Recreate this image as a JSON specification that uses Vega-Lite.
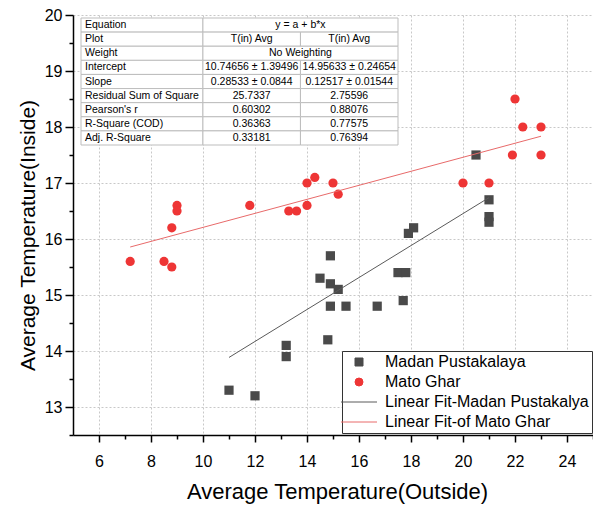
{
  "$schema": "https://vega.github.io/schema/vega-lite/v6.json",
  "width": 520,
  "height": 420,
  "autosize": {"type": "none"},
  "padding": {"left": 73, "top": 15, "right": 0, "bottom": 71},
  "config": {
    "font": "Liberation Sans",
    "view": {"stroke": null},
    "axis": {
      "domainColor": "black", "domainWidth": 1.5, "tickColor": "black", "tickWidth": 1.5,
      "labelColor": "black", "labelFontSize": 16, "labelFont": "Liberation Sans",
      "titleColor": "black", "titleFontWeight": "normal", "titleFont": "Liberation Sans",
      "gridColor": "#c8c8c8", "gridDash": [2, 2], "gridWidth": 1, "labelOverlap": false
    }
  },
  "datasets": {
    "pts": [
      {"x": 11.0, "y": 13.3, "series": "Madan Pustakalaya"},
      {"x": 12.0, "y": 13.2, "series": "Madan Pustakalaya"},
      {"x": 13.2, "y": 14.1, "series": "Madan Pustakalaya"},
      {"x": 13.2, "y": 13.9, "series": "Madan Pustakalaya"},
      {"x": 14.8, "y": 14.2, "series": "Madan Pustakalaya"},
      {"x": 14.9, "y": 14.8, "series": "Madan Pustakalaya"},
      {"x": 15.5, "y": 14.8, "series": "Madan Pustakalaya"},
      {"x": 16.7, "y": 14.8, "series": "Madan Pustakalaya"},
      {"x": 17.7, "y": 14.9, "series": "Madan Pustakalaya"},
      {"x": 14.5, "y": 15.3, "series": "Madan Pustakalaya"},
      {"x": 14.9, "y": 15.2, "series": "Madan Pustakalaya"},
      {"x": 15.2, "y": 15.1, "series": "Madan Pustakalaya"},
      {"x": 14.9, "y": 15.7, "series": "Madan Pustakalaya"},
      {"x": 17.5, "y": 15.4, "series": "Madan Pustakalaya"},
      {"x": 17.8, "y": 15.4, "series": "Madan Pustakalaya"},
      {"x": 17.9, "y": 16.1, "series": "Madan Pustakalaya"},
      {"x": 18.1, "y": 16.2, "series": "Madan Pustakalaya"},
      {"x": 20.5, "y": 17.5, "series": "Madan Pustakalaya"},
      {"x": 21.0, "y": 16.7, "series": "Madan Pustakalaya"},
      {"x": 21.0, "y": 16.4, "series": "Madan Pustakalaya"},
      {"x": 21.0, "y": 16.3, "series": "Madan Pustakalaya"},
      {"x": 7.2, "y": 15.6, "series": "Mato Ghar"},
      {"x": 8.5, "y": 15.6, "series": "Mato Ghar"},
      {"x": 8.8, "y": 15.5, "series": "Mato Ghar"},
      {"x": 8.8, "y": 16.2, "series": "Mato Ghar"},
      {"x": 9.0, "y": 16.6, "series": "Mato Ghar"},
      {"x": 9.0, "y": 16.5, "series": "Mato Ghar"},
      {"x": 11.8, "y": 16.6, "series": "Mato Ghar"},
      {"x": 13.3, "y": 16.5, "series": "Mato Ghar"},
      {"x": 13.6, "y": 16.5, "series": "Mato Ghar"},
      {"x": 14.0, "y": 16.6, "series": "Mato Ghar"},
      {"x": 14.0, "y": 17.0, "series": "Mato Ghar"},
      {"x": 14.3, "y": 17.1, "series": "Mato Ghar"},
      {"x": 15.0, "y": 17.0, "series": "Mato Ghar"},
      {"x": 15.2, "y": 16.8, "series": "Mato Ghar"},
      {"x": 20.0, "y": 17.0, "series": "Mato Ghar"},
      {"x": 21.0, "y": 17.0, "series": "Mato Ghar"},
      {"x": 21.9, "y": 17.5, "series": "Mato Ghar"},
      {"x": 22.0, "y": 18.5, "series": "Mato Ghar"},
      {"x": 22.3, "y": 18.0, "series": "Mato Ghar"},
      {"x": 23.0, "y": 18.0, "series": "Mato Ghar"},
      {"x": 23.0, "y": 17.5, "series": "Mato Ghar"}
    ],
    "fits": [
      {"x": 11.0, "y": 13.885, "series": "Linear Fit-Madan Pustakalya"},
      {"x": 21.0, "y": 16.739, "series": "Linear Fit-Madan Pustakalya"},
      {"x": 7.2, "y": 15.857, "series": "Linear Fit-of Mato Ghar"},
      {"x": 23.0, "y": 17.835, "series": "Linear Fit-of Mato Ghar"}
    ],
    "cells": [
      {"row": "Equation", "kind": "label", "from": "c0", "to": "c5", "mid": "c0", "text": "Equation"},
      {"row": "Equation", "kind": "value", "from": "c5", "to": "c13", "mid": "c9", "text": "y = a + b*x"},
      {"row": "Plot", "kind": "label", "from": "c0", "to": "c5", "mid": "c0", "text": "Plot"},
      {"row": "Plot", "kind": "value", "from": "c5", "to": "c9", "mid": "c7", "text": "T(in) Avg"},
      {"row": "Plot", "kind": "value", "from": "c9", "to": "c13", "mid": "c11", "text": "T(in) Avg"},
      {"row": "Weight", "kind": "label", "from": "c0", "to": "c5", "mid": "c0", "text": "Weight"},
      {"row": "Weight", "kind": "value", "from": "c5", "to": "c13", "mid": "c9", "text": "No Weighting"},
      {"row": "Intercept", "kind": "label", "from": "c0", "to": "c5", "mid": "c0", "text": "Intercept"},
      {"row": "Intercept", "kind": "value", "from": "c5", "to": "c9", "mid": "c7", "text": "10.74656 ± 1.39496"},
      {"row": "Intercept", "kind": "value", "from": "c9", "to": "c13", "mid": "c11", "text": "14.95633 ± 0.24654"},
      {"row": "Slope", "kind": "label", "from": "c0", "to": "c5", "mid": "c0", "text": "Slope"},
      {"row": "Slope", "kind": "value", "from": "c5", "to": "c9", "mid": "c7", "text": "0.28533 ± 0.0844"},
      {"row": "Slope", "kind": "value", "from": "c9", "to": "c13", "mid": "c11", "text": "0.12517 ± 0.01544"},
      {"row": "Residual Sum of Square", "kind": "label", "from": "c0", "to": "c5", "mid": "c0", "text": "Residual Sum of Square"},
      {"row": "Residual Sum of Square", "kind": "value", "from": "c5", "to": "c9", "mid": "c7", "text": "25.7337"},
      {"row": "Residual Sum of Square", "kind": "value", "from": "c9", "to": "c13", "mid": "c11", "text": "2.75596"},
      {"row": "Pearson's r", "kind": "label", "from": "c0", "to": "c5", "mid": "c0", "text": "Pearson's r"},
      {"row": "Pearson's r", "kind": "value", "from": "c5", "to": "c9", "mid": "c7", "text": "0.60302"},
      {"row": "Pearson's r", "kind": "value", "from": "c9", "to": "c13", "mid": "c11", "text": "0.88076"},
      {"row": "R-Square (COD)", "kind": "label", "from": "c0", "to": "c5", "mid": "c0", "text": "R-Square (COD)"},
      {"row": "R-Square (COD)", "kind": "value", "from": "c5", "to": "c9", "mid": "c7", "text": "0.36363"},
      {"row": "R-Square (COD)", "kind": "value", "from": "c9", "to": "c13", "mid": "c11", "text": "0.77575"},
      {"row": "Adj. R-Square", "kind": "label", "from": "c0", "to": "c5", "mid": "c0", "text": "Adj. R-Square"},
      {"row": "Adj. R-Square", "kind": "value", "from": "c5", "to": "c9", "mid": "c7", "text": "0.33181"},
      {"row": "Adj. R-Square", "kind": "value", "from": "c9", "to": "c13", "mid": "c11", "text": "0.76394"}
    ]
  },
  "resolve": {
    "scale": {"x": "independent", "y": "independent"},
    "axis": {"x": "independent", "y": "independent"}
  },
  "layer": [
    {
      "data": {"name": "pts"},
      "mark": {"type": "point", "filled": true, "opacity": 1, "size": 85},
      "encoding": {
        "x": {
          "field": "x", "type": "quantitative",
          "scale": {"domain": [5, 25], "nice": false, "zero": false},
          "axis": {
            "orient": "bottom", "values": [6, 8, 10, 12, 14, 16, 18, 20, 22, 24],
            "tickSize": 7, "labelPadding": 11, "grid": true,
            "title": "Average Temperature(Outside)", "titleFontSize": 22,
            "titleX": 264, "titleY": 63, "titleAlign": "center", "titleBaseline": "alphabetic"
          }
        },
        "y": {
          "field": "y", "type": "quantitative",
          "scale": {"domain": [12.5, 20], "nice": false, "zero": false},
          "axis": {
            "orient": "left", "values": [13, 14, 15, 16, 17, 18, 19, 20],
            "tickSize": 8, "labelPadding": 3, "grid": true,
            "title": "Average Temperature(Inside)", "titleFontSize": 21,
            "titleX": -35, "titleY": 220, "titleAngle": -90, "titleAlign": "center", "titleBaseline": "bottom"
          }
        },
        "color": {
          "field": "series", "type": "nominal",
          "scale": {
            "domain": ["Madan Pustakalaya", "Mato Ghar", "Linear Fit-Madan Pustakalya", "Linear Fit-of Mato Ghar"],
            "range": ["#4a4a4a", "#ee3535", "#5a5a5a", "#e86a6a"]
          },
          "legend": {
            "title": null, "orient": "none", "legendX": 269, "legendY": 336,
            "strokeColor": "#333", "fillColor": "white", "padding": 3, "cornerRadius": 0,
            "labelFontSize": 16, "labelFont": "Liberation Sans", "labelColor": "black", "labelLimit": 400,
            "symbolSize": 64, "symbolOffset": 6, "labelOffset": 18, "rowPadding": 4, "symbolStrokeWidth": 1,
            "encode": {"symbols": {"update": {"fill": {"scale": "color", "field": "value"}, "stroke": {"scale": "color", "field": "value"}, "opacity": {"value": 1}}}}
          }
        },
        "shape": {
          "field": "series", "type": "nominal",
          "scale": {
            "domain": ["Madan Pustakalaya", "Mato Ghar", "Linear Fit-Madan Pustakalya", "Linear Fit-of Mato Ghar"],
            "range": ["square", "circle", "M-4.5,0H4.5", "M-4.5,0H4.5"]
          },
          "legend": {
            "title": null, "orient": "none", "legendX": 269, "legendY": 336,
            "strokeColor": "#333", "fillColor": "white", "padding": 3, "cornerRadius": 0,
            "labelFontSize": 16, "labelFont": "Liberation Sans", "labelColor": "black", "labelLimit": 400,
            "symbolSize": 64, "symbolOffset": 6, "labelOffset": 18, "rowPadding": 4, "symbolStrokeWidth": 1,
            "encode": {"symbols": {"update": {"fill": {"scale": "color", "field": "value"}, "stroke": {"scale": "color", "field": "value"}, "opacity": {"value": 1}}}}
          }
        }
      }
    },
    {
      "data": {"name": "fits"},
      "mark": {"type": "line", "strokeWidth": 1},
      "encoding": {
        "x": {
          "field": "x", "type": "quantitative",
          "scale": {"domain": [5, 25], "nice": false, "zero": false},
          "axis": {
            "orient": "bottom", "values": [7, 9, 11, 13, 15, 17, 19, 21, 23, 25],
            "tickSize": 4, "labels": false, "domain": false, "grid": false, "title": null
          }
        },
        "y": {
          "field": "y", "type": "quantitative",
          "scale": {"domain": [12.5, 20], "nice": false, "zero": false},
          "axis": {
            "orient": "left", "values": [12.5, 13.5, 14.5, 15.5, 16.5, 17.5, 18.5, 19.5],
            "tickSize": 4, "labels": false, "domain": false, "grid": false, "title": null
          }
        },
        "color": {
          "field": "series", "type": "nominal",
          "scale": {
            "domain": ["Madan Pustakalaya", "Mato Ghar", "Linear Fit-Madan Pustakalya", "Linear Fit-of Mato Ghar"],
            "range": ["#4a4a4a", "#ee3535", "#5a5a5a", "#e86a6a"]
          }
        }
      }
    },
    {
      "data": {"name": "cells"},
      "mark": {"type": "rect", "fill": "white", "stroke": "#bdbdbd", "strokeWidth": 1},
      "encoding": {
        "x": {"field": "from", "type": "nominal", "axis": null,
          "scale": {"type": "point", "domain": ["c0","c1","c2","c3","c4","c5","c6","c7","c8","c9","c10","c11","c12","c13"], "range": [8, 325], "padding": 0}},
        "x2": {"field": "to"},
        "y": {"field": "row", "type": "nominal", "axis": null,
          "scale": {"type": "band", "domain": ["Equation","Plot","Weight","Intercept","Slope","Residual Sum of Square","Pearson's r","R-Square (COD)","Adj. R-Square"], "range": [3, 130], "paddingInner": 0, "paddingOuter": 0}}
      }
    },
    {
      "data": {"name": "cells"},
      "transform": [{"filter": "datum.kind == 'label'"}],
      "mark": {"type": "text", "align": "left", "dx": 4, "baseline": "middle", "fontSize": 10.5, "color": "black"},
      "encoding": {
        "x": {"field": "from", "type": "nominal", "axis": null,
          "scale": {"type": "point", "domain": ["c0","c1","c2","c3","c4","c5","c6","c7","c8","c9","c10","c11","c12","c13"], "range": [8, 325], "padding": 0}},
        "y": {"field": "row", "type": "nominal", "axis": null,
          "scale": {"type": "band", "domain": ["Equation","Plot","Weight","Intercept","Slope","Residual Sum of Square","Pearson's r","R-Square (COD)","Adj. R-Square"], "range": [3, 130], "paddingInner": 0, "paddingOuter": 0}},
        "text": {"field": "text"}
      }
    },
    {
      "data": {"name": "cells"},
      "transform": [{"filter": "datum.kind == 'value'"}],
      "mark": {"type": "text", "align": "center", "baseline": "middle", "fontSize": 10.5, "color": "black"},
      "encoding": {
        "x": {"field": "mid", "type": "nominal", "axis": null,
          "scale": {"type": "point", "domain": ["c0","c1","c2","c3","c4","c5","c6","c7","c8","c9","c10","c11","c12","c13"], "range": [8, 325], "padding": 0}},
        "y": {"field": "row", "type": "nominal", "axis": null,
          "scale": {"type": "band", "domain": ["Equation","Plot","Weight","Intercept","Slope","Residual Sum of Square","Pearson's r","R-Square (COD)","Adj. R-Square"], "range": [3, 130], "paddingInner": 0, "paddingOuter": 0}},
        "text": {"field": "text"}
      }
    }
  ]
}
